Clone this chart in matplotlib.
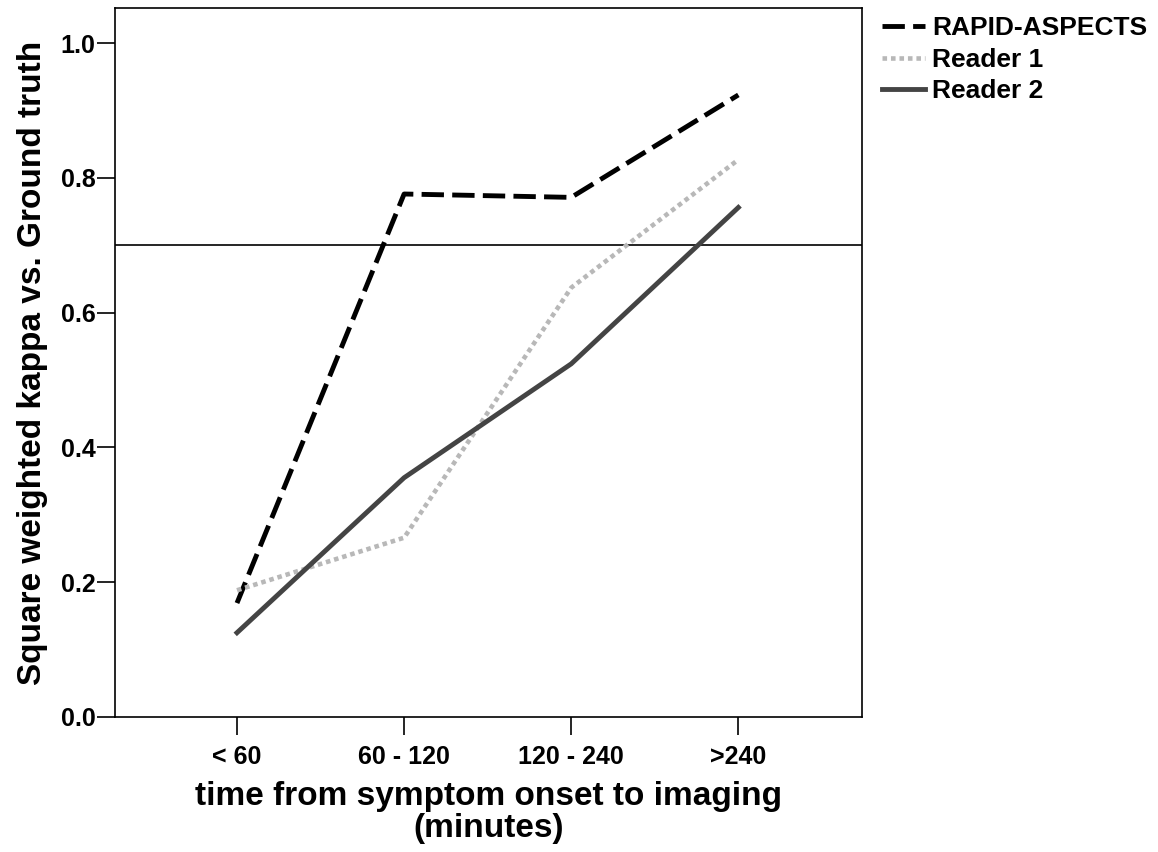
import numpy as np
import matplotlib
matplotlib.use('Agg')
import matplotlib.pyplot as plt

plt.rcParams['font.family'] = ['Liberation Sans', 'DejaVu Sans']
plt.rcParams['font.weight'] = 'bold'

# dados
categorias = ['< 60', '60 - 120', '120 - 240', '>240']
rapid = [0.169, 0.776, 0.771, 0.923]
reader1 = [0.188, 0.266, 0.637, 0.827]
reader2 = [0.125, 0.355, 0.524, 0.756]
limiar = 0.7

x = np.arange(len(categorias))

fig = plt.figure(figsize=(11.58, 8.52), dpi=100)
ax = fig.add_axes([0.0993, 0.1585, 0.6451, 0.8321])

ax.axhline(limiar, color='black', lw=1.2, zorder=1)
ax.plot(x, rapid, color='black', lw=3.5, dashes=(4.6, 1.7), label='RAPID-ASPECTS')
ax.plot(x, reader1, color='#b8b8b8', lw=3.3, dashes=(1, 0.85), label='Reader 1')
ax.plot(x, reader2, color='#444444', lw=3.5, label='Reader 2')

ax.set_xlim(-0.73, 3.74)
ax.set_ylim(0, 1.052)
ax.set_xticks(x)
ax.set_xticklabels(categorias)
ax.set_yticks([0.0, 0.2, 0.4, 0.6, 0.8, 1.0])
ax.set_yticklabels(['0.0', '0.2', '0.4', '0.6', '0.8', '1.0'])
ax.tick_params(axis='both', labelsize=18, width=1.2, length=13)
ax.tick_params(axis='y', pad=1)
ax.tick_params(axis='x', pad=7)
for s in ax.spines.values():
    s.set_linewidth(1.2)

ax.set_xlabel('time from symptom onset to imaging\n(minutes)', fontsize=24,
              fontweight='bold', linespacing=1.05, labelpad=9)
ax.set_ylabel('Square weighted kappa vs. Ground truth', fontsize=24,
              fontweight='bold', labelpad=9)

leg = ax.legend(loc='upper left', bbox_to_anchor=(1.013, 1.003), frameon=False,
                fontsize=19, handlelength=1.6, handletextpad=0.3,
                labelspacing=0.28, borderaxespad=0)

plt.savefig('out.png', dpi=100)
